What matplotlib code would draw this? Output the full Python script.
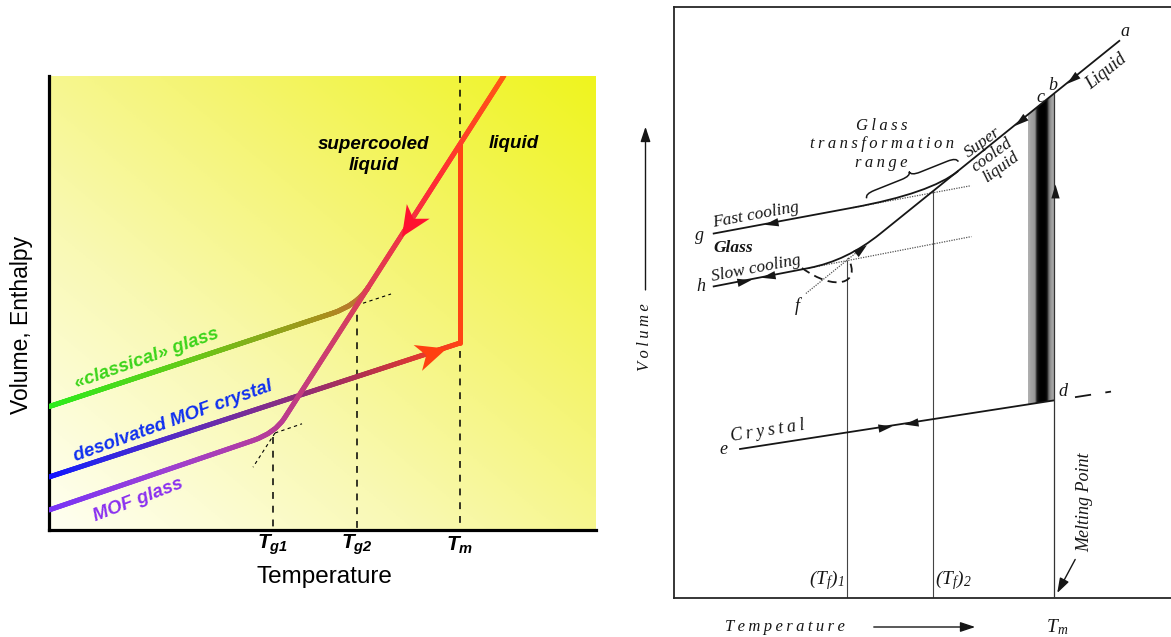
import numpy as np
import matplotlib
matplotlib.use("Agg")
import matplotlib.pyplot as plt
from matplotlib.path import Path
from matplotlib.patches import PathPatch, Polygon
from matplotlib.collections import LineCollection
from matplotlib.colors import LinearSegmentedColormap
from matplotlib.markers import MarkerStyle
from matplotlib.transforms import Affine2D

plt.rcParams['mathtext.fontset'] = 'custom'
plt.rcParams['mathtext.it'] = 'Liberation Sans:italic:bold'
plt.rcParams['mathtext.rm'] = 'Liberation Sans:italic:bold'
plt.rcParams['mathtext.sf'] = 'Liberation Serif:italic'

M, L, C3 = Path.MOVETO, Path.LINETO, Path.CURVE3

# ---------------- left panel (coordinates, in pixels) ----------------
T_pos = [273, 357, 460]
T_labels = [r'$T_{g1}$', r'$T_{g2}$', r'$T_{m}$']
T_dash_top = [437, 301, 75.5]

# liquid -> supercooled -> MOF glass (kink near Tg1)
sc_x = [504, 284.5, 275, 253, 49]
sc_y = [75.5, 418, 433, 440.5, 510]
sc_codes = [M, L, C3, C3, L]
sc_colors = [(0, '#ff5814'), (0.2, '#ff2c36'), (0.41, '#d8405a'), (0.58, '#c23c82'),
             (0.66, '#b43c9c'), (0.82, '#9c40d4'), (1, '#7834f6')]

# classical glass (kink near Tg2)
cg_x = [49, 332, 356.7, 368.5]
cg_y = [406.6, 313.4, 305.3, 287]
cg_codes = [M, L, C3, C3]
cg_colors = [(0, '#2cec1c'), (0.45, '#68c818'), (0.85, '#a8901c'), (1, '#c8683c')]

# desolvated MOF crystal -> melting at Tm
cr_x = [49, 460, 460]
cr_y = [477, 343, 144.5]
cr_codes = [M, L, L]
cr_colors = [(0, '#1010ff'), (0.05, '#2024f0'), (0.22, '#5a2cc0'), (0.42, '#902e78'),
             (0.52, '#b03050'), (0.64, '#e83a2c'), (0.685, '#ff4414'), (1, '#ff4414')]

# thin dashed extensions at the kinks
ext_x = [[356.7, 391], [275, 302], [275, 253]]
ext_y = [[305.3, 294], [433, 423.8], [433, 467.2]]

# ---------------- right panel (classic volume-temperature diagram) ----------------
sup_x = [1120, 880, 846.8, 809, 712.8]
sup_y = [40.3, 233.9, 260.7, 268, 286.6]
sup_codes = [M, L, C3, C3, L]
fast_x = [958.3, 930.4, 853, 712.8]
fast_y = [171, 193.3, 207.6, 233.7]
fast_codes = [M, C3, C3, L]
crys_x = [740, 1054]
crys_y = [449, 400.4]
crys_ext_x = [1075, 1111]
crys_ext_y = [397.2, 391.6]
dot_x = [[853, 971], [809, 971.4], [805.9, 861]]
dot_y = [[207.6, 185.7], [268, 236.6], [293.5, 248.8]]
loop_x = [802, 835, 862, 848]
loop_y = [268, 292, 284, 258]
Tf_x = [847, 933.4]
Tf_top = [260.7, 191]
Tm_x = 1054
Tm_top = 93.5
box_bottom = 598
band_x = [1028, 1054]
band_top = [114.5, 93.5]
band_bot = [404.4, 400.4]
band_profile = [0.68, 0.64, 0.62, 0.58, 0.12, 0.03, 0, 0, 0, 0.06, 0.45, 0.6, 0.66]

# arrowheads on the right panel: x, y, direction (dx, dy in picture pixels)
r_heads = [(1071.7, 79.2, -1, 0.807), (1020, 121, -1, 0.807), (771.4, 222.8, -1, 0.186),
           (743.8, 280.6, 1, -0.193), (767.9, 276.0, -1, 0.193), (885.2, 426.5, 1, -0.155),
           (911, 422.5, -1, 0.155), (1055, 191, 0, -1), (861, 248.8, 1, -0.807)]

fig = plt.figure(figsize=(11.71, 6.37), dpi=100)
W, H = 1171, 637


def place(x0, x1, y0, y1):
    return fig.add_axes([x0 / W, (H - y1) / H, (x1 - x0) / W, (y1 - y0) / H])


def gradient_stroke(ax, xs, ys, codes, stops, lw, z):
    path = Path(np.column_stack([xs, ys]), codes)
    pts = np.vstack(path.to_polygons(closed_only=False))
    s = np.concatenate([[0], np.cumsum(np.hypot(*np.diff(pts, axis=0).T))])
    t = np.linspace(0, s[-1], 500)
    px, py = np.interp(t, s, pts[:, 0]), np.interp(t, s, pts[:, 1])
    segs = np.stack([np.column_stack([px[:-1], py[:-1]]),
                     np.column_stack([px[1:], py[1:]])], axis=1)
    cmap = LinearSegmentedColormap.from_list('g', stops)
    ax.add_collection(LineCollection(segs, colors=cmap(t[:-1] / s[-1]), linewidths=lw,
                                     capstyle='round', joinstyle='round', zorder=z))


def head(ax, x, y, dx, dy, shape, size, color, z=6):
    ang = np.degrees(np.arctan2(-dy, dx))  # y axis is inverted
    m = MarkerStyle(shape, transform=Affine2D().rotate_deg(ang))
    ax.plot([x], [y], marker=m, markersize=size, color=color, markeredgewidth=0,
            linestyle='none', zorder=z)


notched = Path([(1, 0), (-0.9, 0.85), (-0.35, 0), (-0.9, -0.85), (1, 0)], [M, L, L, L, Path.CLOSEPOLY])
tri = Path([(1, 0), (-1, 0.6), (-1, -0.6), (1, 0)], [M, L, L, Path.CLOSEPOLY])

# ================= LEFT =================
ax = place(49, 596, 75.5, 530)
gx, gy = np.meshgrid(np.linspace(0, 1, 300), np.linspace(1, 0, 300))
bg = LinearSegmentedColormap.from_list('bg', ['#fffff2', '#f9f9b4', '#f4f46a', '#eff51e'])
ax.imshow((gx + gy) / 2, cmap=bg, extent=(49, 596, 530, 75.5), aspect='auto', zorder=0)

for x, top in zip(T_pos, T_dash_top):
    ax.plot([x, x], [top, 530], color='black', lw=1.1, ls=(0, (4.5, 4.5)), zorder=2)
for xs, ys in zip(ext_x, ext_y):
    ax.plot(xs, ys, color='black', lw=0.8, ls=(0, (3, 3)), zorder=2)

gradient_stroke(ax, cg_x, cg_y, cg_codes, cg_colors, 3.6, 3)
gradient_stroke(ax, cr_x, cr_y, cr_codes, cr_colors, 3.6, 3)
gradient_stroke(ax, sc_x, sc_y, sc_codes, sc_colors, 3.6, 4)
head(ax, 409.5, 223, sc_x[1] - sc_x[0], sc_y[1] - sc_y[0], notched, 23, '#ff1030')
head(ax, 430.5, 352.6, cr_x[1] - cr_x[0], cr_y[1] - cr_y[0], notched, 23, '#ff4010')

sans = dict(family='Liberation Sans', weight='bold', style='italic')
ax.text(373.5, 155, 'supercooled\nliquid', ha='center', va='center', fontsize=13.5,
        linespacing=1.35, color='black', **sans)
ax.text(514, 143, 'liquid', ha='center', va='center', fontsize=13.5, color='black', **sans)
ax.text(147, 359, '«classical» glass', ha='center', va='center', rotation=19.5,
        fontsize=13.5, color='#3cd41a', **sans)
ax.text(173, 421, 'desolvated MOF crystal', ha='center', va='center', rotation=19.8,
        fontsize=13.5, color='#1030f0', **sans)
ax.text(138, 500, 'MOF glass', ha='center', va='center', rotation=21,
        fontsize=13.5, color='#8a30f0', **sans)
for x, lab in zip(T_pos, T_labels):
    ax.text(x, 545, lab, ha='center', va='center', fontsize=15)
ax.text(324, 577, 'Temperature', ha='center', va='center', fontsize=17.5, family='Liberation Sans')
ax.text(22, 325, 'Volume, Enthalpy', ha='center', va='center', rotation=90,
        fontsize=16.5, family='Liberation Sans')

ax.set_xlim(49, 596)
ax.set_ylim(530, 75.5)
for side in ['top', 'right']:
    ax.spines[side].set_visible(False)
for side in ['left', 'bottom']:
    ax.spines[side].set_linewidth(2.3)
ax.set_xticks([])
ax.set_yticks([])

# ================= RIGHT =================
ax2 = place(674, 1171, 7, 598)
ax2.set_facecolor('none')
ink = '#161616'
ax2.add_patch(PathPatch(Path(np.column_stack([sup_x, sup_y]), sup_codes), fill=False,
                        ec=ink, lw=1.3, zorder=4))
ax2.add_patch(PathPatch(Path(np.column_stack([fast_x, fast_y]), fast_codes), fill=False,
                        ec=ink, lw=1.3, zorder=4))
ax2.plot(crys_x, crys_y, color=ink, lw=1.3, zorder=4)
ax2.plot(crys_ext_x, crys_ext_y, color=ink, lw=1.3, ls=(0, (9, 8)), zorder=4)
for xs, ys in zip(dot_x, dot_y):
    ax2.plot(xs, ys, color='#555555', lw=0.9, ls=(0, (1, 1)), zorder=3)
ax2.add_patch(PathPatch(Path(np.column_stack([loop_x, loop_y]),
                             [M, Path.CURVE4, Path.CURVE4, Path.CURVE4]),
                        fill=False, ec=ink, lw=1.3, ls=(0, (5, 3)), zorder=4))
for x, top in zip(Tf_x, Tf_top):
    ax2.plot([x, x], [top, box_bottom], color='#444444', lw=0.8, zorder=2)
ax2.plot([Tm_x, Tm_x], [Tm_top, box_bottom], color='#333333', lw=0.9, zorder=5)

band = Polygon([(band_x[0], band_top[0]), (band_x[1], band_top[1]),
                (band_x[1], band_bot[1]), (band_x[0], band_bot[0])], closed=True,
               fc='none', ec='none')
ax2.add_patch(band)
im = ax2.imshow(np.array(band_profile)[np.newaxis, :], cmap='gray', vmin=0, vmax=1,
                extent=(band_x[0], band_x[1], max(band_bot), min(band_top)),
                aspect='auto', zorder=3, interpolation='bilinear')
im.set_clip_path(band)

for x, y, dx, dy in r_heads:
    head(ax2, x, y, dx, dy, tri, 10, ink)

# brace over the glass transformation range
b0, b1 = np.array([866.7, 198.3]), np.array([958.3, 161.7])
bl = np.linalg.norm(b1 - b0)
u = (b1 - b0) / bl
n = np.array([u[1], -u[0]])
bh = 9
local = [(0, 0), (0, bh / 2), (0.1 * bl, bh / 2), (0.4 * bl, bh / 2), (0.5 * bl, bh / 2),
         (0.5 * bl, bh), (0.5 * bl, bh / 2), (0.6 * bl, bh / 2), (0.9 * bl, bh / 2),
         (bl, bh / 2), (bl, 0)]
bverts = [b0 + a * u + c * n for a, c in local]
ax2.add_patch(PathPatch(Path(bverts, [M, C3, C3, L, C3, C3, C3, C3, L, C3, C3]),
                        fill=False, ec=ink, lw=1.1, zorder=4))

serif = dict(family=['Liberation Serif', 'DejaVu Serif'], style='italic', color=ink)
sp = lambda s: '\u2009'.join(s)
ax2.text(881.7, 126, sp('Glass'), ha='center', va='center', fontsize=12, **serif)
ax2.text(881.7, 144, sp('transformation'), ha='center', va='center', fontsize=12, **serif)
ax2.text(881.7, 162.6, sp('range'), ha='center', va='center', fontsize=12, **serif)
ax2.text(992, 155, 'Super\ncooled\nliquid', ha='center', va='center', rotation=36,
         fontsize=12.5, linespacing=0.95, rotation_mode='anchor', **serif)
ax2.text(1106, 71.7, 'Liquid', ha='center', va='center', rotation=38.5, fontsize=13, **serif)
ax2.text(1125, 31.7, 'a', ha='center', va='center', fontsize=13, **serif)
ax2.text(1053.3, 86, 'b', ha='center', va='center', fontsize=13, **serif)
ax2.text(1040, 97, 'c', ha='center', va='center', fontsize=13, **serif)
ax2.text(755.9, 215.4, 'Fast cooling', ha='center', va='center', rotation=10.5, fontsize=12.5, **serif)
ax2.text(756, 268.3, 'Slow cooling', ha='center', va='center', rotation=10.9, fontsize=12.5, **serif)
ax2.text(733.4, 248, 'Glass', ha='center', va='center', fontsize=12.5, weight='bold', **serif)
ax2.text(699, 235, 'g', ha='center', va='center', fontsize=13, **serif)
ax2.text(700.7, 286.6, 'h', ha='center', va='center', fontsize=13, **serif)
ax2.text(797, 306, 'f', ha='center', va='center', fontsize=13, **serif)
ax2.text(768, 431, sp('Crystal'), ha='center', va='center', rotation=8.8, fontsize=13, **serif)
ax2.text(723, 449, 'e', ha='center', va='center', fontsize=13, **serif)
ax2.text(1062.8, 392, 'd', ha='center', va='center', fontsize=13, **serif)
ax2.text(1085, 502, 'Melting Point', ha='center', va='center', rotation=90, fontsize=13, **serif)
ax2.text(845, 580, r'$\mathsf{(T_f)_1}$', ha='right', va='center', fontsize=14, color=ink)
ax2.text(935, 580, r'$\mathsf{(T_f)_2}$', ha='left', va='center', fontsize=14, color=ink)
ax2.text(1057.6, 627, r'$\mathsf{T_m}$', ha='center', va='center', fontsize=14, color=ink)
ax2.text(785, 627, sp('Temperature'), ha='center', va='center', fontsize=12, **serif)
ax2.text(645.5, 337, sp('Volume'), ha='center', va='center', rotation=90, fontsize=12, **serif)

arr = dict(arrowstyle='-|>,head_length=0.9,head_width=0.3', color=ink, lw=1.0)
ax2.annotate('', xy=(1055.9, 595.5), xytext=(1076.5, 557), arrowprops=arr)
ax2.annotate('', xy=(978, 627), xytext=(871, 627), arrowprops=arr, annotation_clip=False)
ax2.annotate('', xy=(645.5, 124), xytext=(645.5, 292.7), arrowprops=arr, annotation_clip=False)

ax2.set_xlim(674, 1171)
ax2.set_ylim(598, 7)
ax2.spines['right'].set_visible(False)
for side in ['top', 'left', 'bottom']:
    ax2.spines[side].set_linewidth(1.3)
    ax2.spines[side].set_color('#262626')
ax2.set_xticks([])
ax2.set_yticks([])

fig.savefig('out.png', dpi=100, facecolor='white')
